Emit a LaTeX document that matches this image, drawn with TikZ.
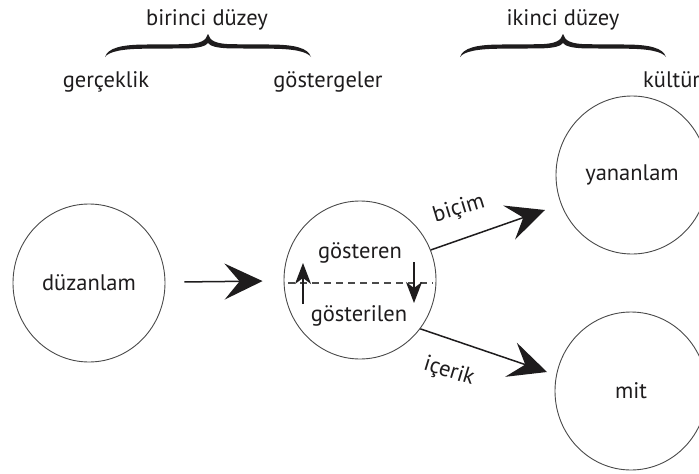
\documentclass[tikz,border=0pt]{standalone}
\usepackage{fontspec}
\setmainfont{PT Sans}
\usetikzlibrary{arrows.meta,shapes.geometric}
\definecolor{ink}{HTML}{1E1C1D}
\definecolor{rim}{HTML}{4A4A4A}
\begin{document}
\begin{tikzpicture}[x=1pt,y=1pt,
  txt/.style={font=\fontsize{22.5}{26}\selectfont, text=ink, inner sep=0pt},
  bubble/.style={ellipse, draw=rim, line width=0.9pt, minimum width=152pt, minimum height=158pt, inner sep=0pt, font=\fontsize{22.5}{26}\selectfont, text=ink},
  bigarrow/.style={line width=1.5pt, draw=ink, -{Stealth[length=38pt,width=36pt,inset=15pt]}},
  smallarrow/.style={line width=1.5pt, draw=ink, -{Stealth[length=21pt,width=16pt,inset=6pt]}},
  bracepic/.pic={
    \fill[ink] (0,0) .. controls (3,9) and (16,12.5) .. (42,12.5)
      -- (80,12.8) .. controls (95,13.2) and (101,16) .. (103,23)
      .. controls (105,16) and (111,13.2) .. (126,12.8)
      -- (164,12.5) .. controls (190,12.5) and (203,9) .. (206,0)
      .. controls (202,5.5) and (189,8.3) .. (164,8.3)
      -- (126,8.6) .. controls (112,8.8) and (105,11) .. (103,14)
      .. controls (101,11) and (94,8.8) .. (80,8.6)
      -- (42,8.3) .. controls (17,8.3) and (4,5.5) .. (0,0) -- cycle;
  }
]
\useasboundingbox[fill=white] (0,0) rectangle (699,-474);

% braces and level titles
\pic at (105,-57) {bracepic};
\pic at (460,-57) {bracepic};
\node[txt, anchor=base] (b1) at (207,-25) {birinci düzey};
\node[txt, anchor=base] (b2) at (563,-25) {ikinci düzey};
\node[txt, anchor=base] (g1) at (106,-87) {gerçeklik};
\node[txt, anchor=base] (g2) at (328,-87) {göstergeler};
\node[txt, anchor=base west] (g3) at (643,-87) {kültür};

% circles
\node[bubble] (duz) at (89,-283) {düzanlam};
\node[bubble] (ctr) at (360,-280) {};
\node[bubble] (yan) at (632,-175) {yananlam};
\node[bubble] (mit) at (631,-391) {mit};

% inside the central circle
\node[txt, anchor=base] (gst) at (360,-258) {gösteren};
\node[txt, anchor=base] (gsl) at (359,-321) {gösterilen};
\coordinate (dl) at (288,-283);
\coordinate (dr) at (433,-283);
\draw[rim, line width=1.1pt, dash pattern=on 7pt off 5pt] (dl) -- (dr);
\coordinate (ua) at (303,-304);
\coordinate (ub) at (303,-263);
\coordinate (da) at (414,-262);
\coordinate (db) at (414,-303);
\draw[smallarrow] (ua) -- (ub);
\draw[smallarrow] (da) -- (db);

% connectors
\draw[bigarrow, shorten <=19pt, shorten >=21pt] (duz) -- (ctr);
\coordinate (bt) at (545,-210);
\coordinate (it) at (547,-372);
\draw[bigarrow] (ctr.23) -- (bt);
\draw[bigarrow] (ctr.-39) -- (it);
\node[txt, rotate=17] (lb) at (459,-209) {biçim};
\node[txt, rotate=-17] (li) at (449,-372) {içerik};
\end{tikzpicture}
\end{document}
